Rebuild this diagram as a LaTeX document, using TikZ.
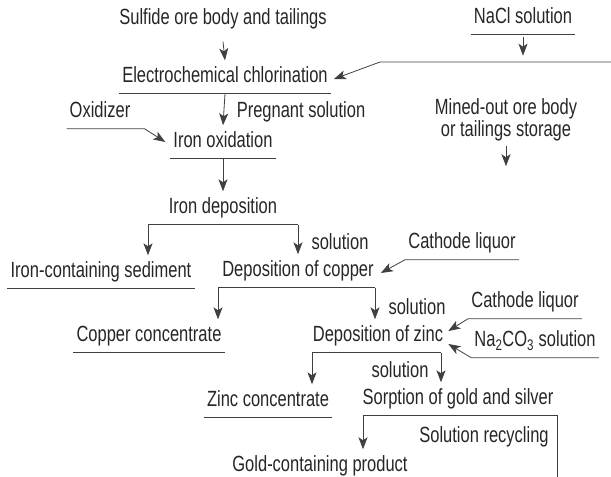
\documentclass[tikz,border=0pt]{standalone}
\usepackage{fontspec}
\setmainfont{Liberation Sans}[FakeStretch=0.75]
\usetikzlibrary{arrows.meta,calc}
\begin{document}
\begin{tikzpicture}[x=1pt,y=-1pt,
  ln/.style={draw=black!75, line width=0.8pt},
  arr/.style={ln, -{Stealth[length=12pt,width=9pt,inset=3pt]}},
  lbl/.style={inner xsep=3pt, inner ysep=6pt, text height=16pt, text depth=5pt,
    font=\fontsize{22}{26}\selectfont, text=black!85},
  ul/.style={lbl, append after command={(\tikzlastnode.south west) edge[ln] (\tikzlastnode.south east)}},
  twoline/.style={inner sep=0pt, align=center, font=\fontsize{22}{20}\selectfont, text=black!85}]
\useasboundingbox (0,0) rectangle (611,477);

% nodes
\node[lbl] (sulf) at (223,19) {Sulfide ore body and tailings};
\node[ul] (nacl) at (523,18) {NaCl solution};
\node[ul] (elch) at (225,77) {Electrochemical chlorination};
\node[lbl] (preg) at (301,112) {Pregnant solution};
\node[lbl] (oxid) at (100,112) {Oxidizer};
\node[ul] (ioxi) at (223,142) {Iron oxidation};
\node[twoline] (mined) at (506,120) {Mined-out ore body\\or tailings storage};
\node[lbl] (idep) at (223,208) {Iron deposition};
\node[lbl] (sol1) at (340,244) {solution};
\node[ul] (sed) at (101,272) {Iron-containing sediment};
\node[lbl] (cath1) at (462,243) {Cathode liquor};
\node[lbl] (cu) at (298,271) {Deposition of copper};
\node[lbl] (sol2) at (417,309) {solution};
\node[ul] (cuconc) at (149,336) {Copper concentrate};
\node[lbl] (zn) at (378,336) {Deposition of zinc};
\node[lbl] (cath2) at (525,302) {Cathode liquor};
\node[lbl] (na2) at (535,341) {Na\textsubscript{2}CO\textsubscript{3} solution};
\node[lbl] (sol3) at (400,372) {solution};
\node[ul] (znconc) at (268,401) {Zinc concentrate};
\node[lbl] (sorp) at (458,399) {Sorption of gold and silver};
\node[lbl] (recyc) at (484,437) {Solution recycling};
\node[lbl] (gold) at (320,466) {Gold-containing product};

% coordinates
\coordinate (rt) at (611,62);
\coordinate (bend) at (380,62);
\coordinate (bot) at (557,477);
\path (idep.south) ++(-75,0) coordinate (b1) ++(150,0) coordinate (b2);
\path (cu.south) ++(-80,0) coordinate (b3) ++(157,0) coordinate (b4);
\path (zn.south) ++(-66,0) coordinate (b5) ++(129,0) coordinate (b6);
\path (sorp.south) ++(-95,0) coordinate (b7) ++(194,0) coordinate (b8);

% connectors
\draw[arr] ($(sulf.south)+(0,6)$) -- (elch.north);
\draw[arr] ($(nacl.south)+(0,2)$) -- ($(nacl.south)+(0,21)$);
\draw[arr] (rt) -- (bend) -- ($(elch.east)+(3,2)$);
\draw[arr] (elch.south) -- (ioxi.north);
\draw[arr] (oxid.south west) -- ($(oxid.south east)+(11,0)$) -- ($(ioxi.west)+(-5,0)$);
\draw[arr] ($(mined.south)+(0,5)$) -- ($(mined.south)+(0,25)$);
\draw[arr] (ioxi.south) -- (idep.north);
\draw[ln] (b1) -- (b2);
\draw[arr] (b1) -- (b1 |- sed.north);
\draw[arr] (b2) -- (b2 |- cu.north);
\draw[arr] (cath1.south east) -- (cath1.south west) -- ($(cu.east)+(4,2)$);
\draw[ln] (b3) -- (b4);
\draw[arr] (b3) -- (b3 |- cuconc.north);
\draw[arr] (b4) -- (b4 |- zn.north);
\draw[arr] (cath2.south east) -- (cath2.south west) -- ($(zn.east)+(2,-5)$);
\draw[arr] (na2.south east) -- (na2.south west) -- ($(zn.east)+(2,8)$);
\draw[ln] (b5) -- (b6);
\draw[arr] (b5) -- (b5 |- znconc.north);
\draw[arr] (b6) -- (b6 |- sorp.north);
\draw[ln] (b7) -- (b8) -- (bot);
\draw[arr] (b7) -- (b7 |- gold.north);
\end{tikzpicture}
\end{document}
